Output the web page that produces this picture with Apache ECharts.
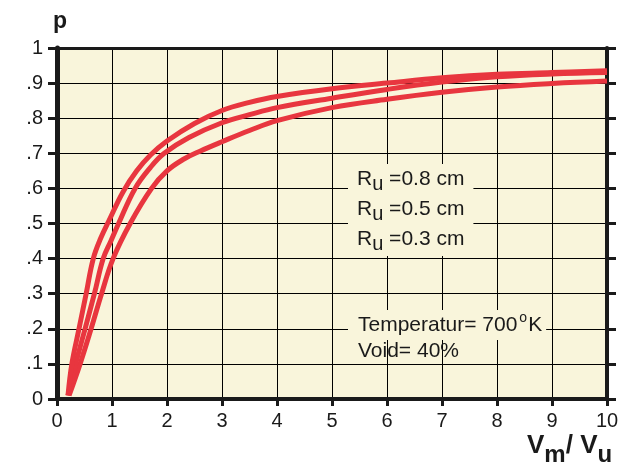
<!DOCTYPE html>
<html>
<head>
<meta charset="utf-8">
<script src="https://cdn.jsdelivr.net/npm/echarts@6/dist/echarts.min.js"></script>
<style>
html,body{margin:0;padding:0;background:#fff;}
#chart{width:640px;height:471px;}
</style>
</head>
<body>
<div id="chart"></div>
<script>
// ---- data ----
var xTicks = [0, 1, 2, 3, 4, 5, 6, 7, 8, 9, 10];
var yTickLabels = ['0', '.1', '.2', '.3', '.4', '.5', '.6', '.7', '.8', '.9', '1'];

var seriesNames = ['Ru=0.8 cm', 'Ru=0.5 cm', 'Ru=0.3 cm'];

var r08X = [0.2, 0.27, 0.40, 0.53, 0.66, 0.80, 0.95, 1.20, 1.45, 1.70, 2.0, 2.5, 3.0, 3.5, 4.0, 5.0, 6.0, 7.0, 8.0, 9.0, 10.0];
var r08Y = [0.01, 0.10, 0.20, 0.30, 0.40, 0.46, 0.51, 0.59, 0.65, 0.695, 0.735, 0.785, 0.822, 0.845, 0.862, 0.884, 0.900, 0.915, 0.925, 0.930, 0.935];

var r05X = [0.2, 0.34, 0.51, 0.68, 0.84, 0.98, 1.12, 1.42, 1.70, 1.95, 2.4, 3.0, 3.5, 4.0, 5.0, 6.0, 7.0, 8.0, 9.0, 10.0];
var r05Y = [0.01, 0.10, 0.20, 0.30, 0.40, 0.45, 0.50, 0.60, 0.66, 0.70, 0.745, 0.787, 0.810, 0.830, 0.857, 0.882, 0.903, 0.918, 0.926, 0.930];

var r03X = [0.22, 0.42, 0.62, 0.81, 1.02, 1.33, 1.72, 2.0, 2.3, 2.6, 3.0, 3.5, 4.0, 5.0, 6.0, 7.0, 8.0, 9.0, 10.0];
var r03Y = [0.01, 0.10, 0.20, 0.30, 0.40, 0.50, 0.60, 0.65, 0.683, 0.706, 0.733, 0.765, 0.793, 0.830, 0.854, 0.874, 0.889, 0.899, 0.906];

function pairs(xs, ys) {
  var out = [];
  for (var i = 0; i < xs.length; i++) out.push([xs[i], ys[i]]);
  return out;
}

var BG = '#F9F5DB';
var RED = '#E8363F';
var INK = '#1a1a1a';
var FONT = '"Liberation Sans", Arial, sans-serif';

var chart = echarts.init(document.getElementById('chart'), null, {renderer: 'canvas'});

function lineSeries(name, data) {
  return {
    name: name,
    type: 'line',
    data: data,
    smooth: 0.4,
    symbol: 'none',
    lineStyle: {color: RED, width: 5, cap: 'butt'},
    z: 3,
    silent: true
  };
}

var richSub = {
  r: {fontSize: 21, fontFamily: FONT, fontWeight: 'normal', color: INK, lineHeight: 30},
  s: {fontSize: 20, fontFamily: FONT, fontWeight: 'normal', color: INK, lineHeight: 30, padding: [10, 0, 0, 0]}
};

var option = {
  backgroundColor: '#ffffff',
  animation: false,
  grid: {left: 57, right: 33, top: 48, bottom: 72, show: true, backgroundColor: BG, borderWidth: 0},
  title: [
    {
      text: 'p', left: 48, top: 5,
      textStyle: {fontSize: 23, fontWeight: 'bold', fontFamily: FONT, color: INK}
    },
    {
      text: '{v|V}{s|m}{v|/ V}{s|u}', left: 527, top: 434, padding: 0,
      textStyle: {
        rich: {
          v: {fontSize: 26, fontWeight: 'bold', fontFamily: FONT, color: INK, lineHeight: 24},
          s: {fontSize: 24, fontWeight: 'bold', fontFamily: FONT, color: INK, lineHeight: 24, padding: [18, 0, 0, 0]}
        }
      }
    },
    {
      text: '{r|R}{s|u}{r| =0.8 cm}\n{r|R}{s|u}{r| =0.5 cm}\n{r|R}{s|u}{r| =0.3 cm}',
      left: 348, top: 164, padding: [0, 9, 2, 9],
      backgroundColor: BG,
      textStyle: {fontWeight: 'normal', rich: richSub}
    },
    {
      text: '{r|Temperatur= 700}{o|o}{r|K}',
      left: 348, top: 311, padding: [1, 4, 1, 10],
      backgroundColor: BG,
      textStyle: {
        fontWeight: 'normal',
        rich: {
          r: {fontSize: 21, fontFamily: FONT, fontWeight: 'normal', color: INK, lineHeight: 26},
          o: {fontSize: 14, fontFamily: FONT, fontWeight: 'normal', color: INK, lineHeight: 26, padding: [0, 1, 14, 2]}
        }
      }
    },
    {
      text: 'Void= 40%', left: 358, top: 338, padding: 0,
      textStyle: {fontSize: 21, fontFamily: FONT, color: INK, fontWeight: 'normal', lineHeight: 26}
    }
  ],
  xAxis: [
    {
      type: 'value', min: 0, max: 10, interval: 1, position: 'bottom',
      axisLine: {show: true, onZero: false, lineStyle: {color: INK, width: 4}},
      axisTick: {show: true, inside: false, length: 7, lineStyle: {color: INK, width: 3}},
      axisLabel: {
        show: true, margin: 12, fontSize: 20, fontFamily: FONT, color: INK,
        formatter: function (v) { return xTicks.indexOf(v) >= 0 ? String(v) : ''; }
      },
      splitLine: {show: true, lineStyle: {color: '#000', width: 1}}
    },
    {
      type: 'value', min: 0, max: 10, interval: 1, position: 'top',
      axisLine: {show: true, onZero: false, lineStyle: {color: INK, width: 3}},
      axisTick: {show: false}, axisLabel: {show: false}, splitLine: {show: false}
    }
  ],
  yAxis: [
    {
      type: 'value', min: 0, max: 1, interval: 0.1, position: 'left',
      axisLine: {show: true, onZero: false, lineStyle: {color: INK, width: 5}},
      axisTick: {show: true, inside: false, length: 9, lineStyle: {color: INK, width: 3}},
      axisLabel: {
        show: true, margin: 14, fontSize: 20, fontFamily: FONT, color: INK,
        padding: [0, 0, 6, 0],
        formatter: function (v) { return yTickLabels[Math.round(v * 10)]; }
      },
      splitLine: {show: true, lineStyle: {color: '#000', width: 1}}
    },
    {
      type: 'value', min: 0, max: 1, interval: 0.1, position: 'right',
      axisLine: {show: true, onZero: false, lineStyle: {color: INK, width: 4}},
      axisTick: {show: true, inside: false, length: 9, lineStyle: {color: INK, width: 3}},
      axisLabel: {show: false}, splitLine: {show: false}
    }
  ],
  series: [
    lineSeries(seriesNames[2], pairs(r03X, r03Y)),
    lineSeries(seriesNames[1], pairs(r05X, r05Y)),
    lineSeries(seriesNames[0], pairs(r08X, r08Y))
  ]
};

chart.setOption(option);
</script>
</body>
</html>
